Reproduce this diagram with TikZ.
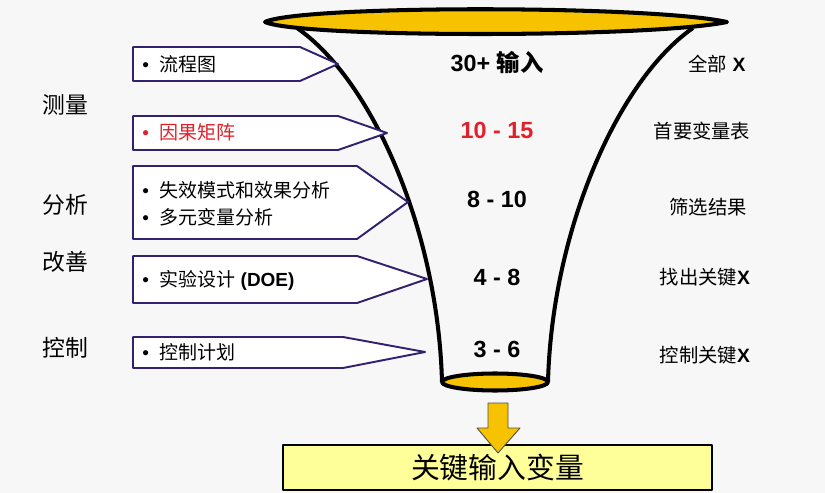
\documentclass[tikz,border=0pt]{standalone}
\usepackage{fontspec}
\setmainfont{Liberation Sans}
\newfontfamily\cjk{Noto Sans CJK SC}
\usepackage{xcolor}
\usetikzlibrary{positioning}

\definecolor{paper}{HTML}{F7F7F7}
\definecolor{gold}{HTML}{F7C300}
\definecolor{navy}{HTML}{33206E}
\definecolor{lemon}{HTML}{FFFF99}
\definecolor{hot}{HTML}{E3202A}

\begin{document}
\begin{tikzpicture}[x=0.02cm, y=-0.02cm, line join=round]
    % Styles
    \tikzstyle{stage} = [font=\cjk\fontsize{13}{15}\selectfont, inner sep=0pt]
    \tikzstyle{tool} = [draw=navy, line width=1.1pt, fill=white]
    \tikzstyle{item} = [font=\fontsize{10.8}{13}\selectfont, inner sep=0pt, anchor=west]
    \tikzstyle{count} = [font=\bfseries\fontsize{13.3}{16}\selectfont, inner sep=0pt]
    \tikzstyle{result} = [font=\fontsize{11}{13}\selectfont, inner sep=0pt]
    \tikzstyle{funnel} = [draw=black, line width=2.3pt]

    % Background
    \fill[paper] (0,0) rectangle (825,493);
    \useasboundingbox (0,0) rectangle (825,493);

    % Funnel
    \draw[funnel] (297,28) .. controls (372,80) and (438,230) .. (442,382);
    \draw[funnel] (693,28) .. controls (618,80) and (552,230) .. (548,382);
    \draw[funnel, fill=gold] (265,22) .. controls (300,5) and (650,5) .. (727,22)
        .. controls (650,38) and (300,38) .. cycle;
    \draw[funnel, fill=gold] (495,382) ellipse [x radius=53, y radius=8.5];

    % Stages
    \node[stage] (measure) at (65,105) {测量};
    \node[stage] (analyse) at (65,205) {分析};
    \node[stage] (improve) at (65,262) {改善};
    \node[stage] (control) at (65,348) {控制};

    % Tools
    \draw[tool] (133,47) -- (300,47) -- (338,64) -- (300,81) -- (133,81) -- cycle;
    \draw[tool] (133,116) -- (338,116) -- (387,133) -- (338,150) -- (133,150) -- cycle;
    \draw[tool] (133,166) -- (357,166) -- (408,202) -- (357,239) -- (133,239) -- cycle;
    \draw[tool] (133,256) -- (357,256) -- (427,279) -- (357,303) -- (133,303) -- cycle;
    \draw[tool] (133,337) -- (343,337) -- (425,352) -- (343,368) -- (133,368) -- cycle;

    \node[item] (flow) at (142,64) {\textbullet\hspace{6pt}{\cjk 流程图}};
    \node[item, text=hot] (matrix) at (142,132) {\textbullet\hspace{6pt}{\cjk 因果矩阵}};
    \node[item] (fmea) at (142,190) {\textbullet\hspace{6pt}{\cjk 失效模式和效果分析}};
    \node[item] (multi) at (142,217) {\textbullet\hspace{6pt}{\cjk 多元变量分析}};
    \node[item] (doe) at (142,280) {\textbullet\hspace{6pt}{\cjk 实验设计} \textbf{(DOE)}};
    \node[item] (plan) at (142,352) {\textbullet\hspace{6pt}{\cjk 控制计划}};

    % Counts
    \node[count] (n30) at (497,62) {30+ {\cjk 输入}};
    \node[count, text=hot] (n10) at (497,130) {10 - 15};
    \node[count] (n8) at (497,199) {8 - 10};
    \node[count] (n4) at (497,277) {4 - 8};
    \node[count] (n3) at (497,349) {3 - 6};

    % Results
    \node[result] (all) at (717,64) {{\cjk 全部} \textbf{X}};
    \node[result] (top) at (702,131) {\cjk 首要变量表};
    \node[result] (screen) at (708,207) {\cjk 筛选结果};
    \node[result] (find) at (705,277) {{\cjk 找出关键}\textbf{X}};
    \node[result] (keep) at (705,355) {{\cjk 控制关键}\textbf{X}};

    % Output
    \node[draw=black, line width=0.9pt, fill=lemon, minimum width=8.58cm, minimum height=0.9cm,
        font=\cjk\fontsize{16.4}{19}\selectfont, inner sep=0pt] (key) at (497.5,467.5) {关键输入变量};
    \draw[draw=black!70, line width=0.5pt, fill=gold] (488,403) -- (508,403) -- (508,428) -- (520,428)
        -- (498,453) -- (477,428) -- (488,428) -- cycle;
\end{tikzpicture}
\end{document}
